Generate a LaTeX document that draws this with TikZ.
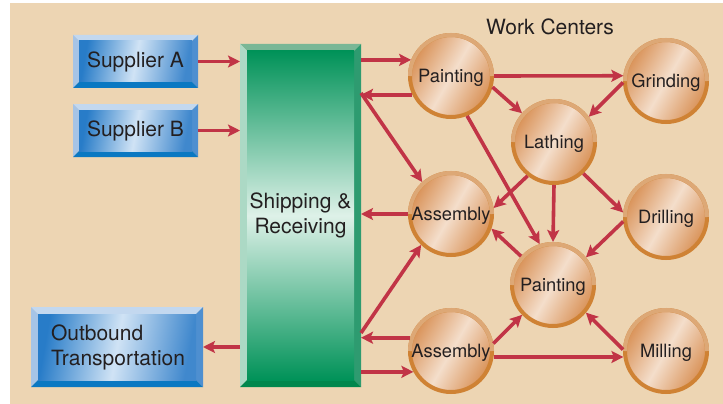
\documentclass[tikz,border=0pt]{standalone}
\usepackage{fontspec}
\setmainfont{TeX Gyre Heros}
\usetikzlibrary{arrows.meta,calc}
\pgfdeclarelayer{back}
\pgfdeclarelayer{bevel}
\pgfsetlayers{back,bevel,main}
\definecolor{beige}{RGB}{237,213,179}
\definecolor{arrowred}{RGB}{193,52,70}
\definecolor{ringD}{RGB}{207,130,52}
\definecolor{ringL}{RGB}{221,168,118}
\definecolor{cEdge}{RGB}{217,146,88}
\definecolor{cMid}{RGB}{244,222,203}
\definecolor{txt}{RGB}{35,31,32}
\definecolor{bTop}{RGB}{195,216,239}
\definecolor{bLeft}{RGB}{166,196,230}
\definecolor{bRight}{RGB}{78,143,208}
\definecolor{bBot}{RGB}{10,120,194}
\definecolor{bDark}{RGB}{40,124,200}
\definecolor{bLight}{RGB}{208,227,245}
\definecolor{bMed}{RGB}{64,136,205}
\definecolor{gTop}{RGB}{122,183,150}
\definecolor{gLeft}{RGB}{172,217,197}
\definecolor{gRight}{RGB}{46,155,112}
\definecolor{gBot}{RGB}{0,135,77}
\definecolor{gDark}{RGB}{0,146,88}
\definecolor{gLight}{RGB}{222,241,232}
\newcommand\bevelbox[7]{%
\begin{pgfonlayer}{bevel}
\fill[#3] (#1.north west) -- (#1.north east) -- ($(#1.north east)+(-#2,#2)$) -- ($(#1.north west)+(#2,#2)$) -- cycle;
\fill[#4] (#1.north west) -- ($(#1.north west)+(#2,#2)$) -- ($(#1.south west)+(#2,-#2)$) -- (#1.south west) -- cycle;
\fill[#5] (#1.north east) -- ($(#1.north east)+(-#2,#2)$) -- ($(#1.south east)+(-#2,-#2)$) -- (#1.south east) -- cycle;
\fill[#6] (#1.south west) -- ($(#1.south west)+(#2,-#2)$) -- ($(#1.south east)+(-#2,-#2)$) -- (#1.south east) -- cycle;
\shade[#7] ($(#1.north west)+(#2,#2)$) rectangle ($(#1.south east)+(-#2,-#2)$);
\end{pgfonlayer}}
\begin{document}
\begin{tikzpicture}[x=1pt,y=-1pt,
  box/.style={rectangle, inner sep=0pt, outer sep=0pt, text=txt, font=\fontsize{21}{25}\selectfont},
  wc/.style={circle, minimum size=82pt, inner sep=0pt, draw=ringD, line width=4pt,
    left color=cEdge, right color=cEdge, middle color=cMid, shading angle=60,
    text=txt, text depth=0pt, font=\fontsize{18.3}{20}\selectfont},
  arr/.style={draw=arrowred, line width=3.6pt, -{Stealth[length=12pt,width=12pt,inset=2.5pt]}},
  bluein/.style={left color=bDark, right color=bMed, middle color=bLight, shading angle=80},
  greenin/.style={top color=gDark, bottom color=gDark, middle color=gLight}
]
\useasboundingbox (0,0) rectangle (723,404);
\begin{pgfonlayer}{back}
\fill[white] (0,0) rectangle (723,404);
\fill[beige] (10,3) rectangle (723,404);
\end{pgfonlayer}

% boxes
\node[box, minimum width=125pt, minimum height=53pt] (sa) at (135.5,61.5) {Supplier A};
\node[box, minimum width=125pt, minimum height=53pt] (sb) at (135.5,130.5) {Supplier B};
\node[box, minimum width=172pt, minimum height=80pt, text width=132pt, inner xsep=20pt, align=left] (ob) at (117,347) {Outbound\\Transportation};
\node[box, minimum width=121pt, minimum height=343pt, align=center] (sr) at (300.5,215.5) {Shipping \&\\Receiving};
\bevelbox{sa}{6}{bTop}{bLeft}{bRight}{bBot}{bluein}
\bevelbox{sb}{6}{bTop}{bLeft}{bRight}{bBot}{bluein}
\bevelbox{ob}{7}{bTop}{bLeft}{bRight}{bBot}{bluein}
\bevelbox{sr}{7}{gTop}{gLeft}{gRight}{gBot}{greenin}

\node[text=txt, font=\fontsize{21}{25}\selectfont] (title) at (550,27) {Work Centers};

% work centers
\node[wc] (p1) at (451,76) {Painting};
\node[wc] (g) at (666,81) {Grinding};
\node[wc] (l) at (554,142) {Lathing};
\node[wc] (a1) at (451,214) {Assembly};
\node[wc] (d) at (666,217) {Drilling};
\node[wc] (p2) at (553,285) {Painting};
\node[wc] (a2) at (451,351) {Assembly};
\node[wc] (m) at (666,351) {Milling};
\foreach \n in {p1,g,l,a1,d,p2,a2,m}{
  \draw[ringL, line width=4pt] (\n.center) ++(41pt,0pt) arc[start angle=0, end angle=180, radius=41pt];
}

% connectors
\draw[arr] (sa.east) -- (sr.west |- sa.east);
\draw[arr] (sb.east) -- (sr.west |- sb.east);
\draw[arr] (sr.west |- ob.east) -- (ob.east);
\draw[arr] (sr.east |- p1.158) -- (p1.158);
\draw[arr] (p1.206) -- (sr.east |- p1.206);
\draw[arr] ($(sr.north east)+(0,49)$) -- (a1.132);
\draw[arr] (a1.west) -- (sr.east |- a1.west);
\draw[arr] ($(sr.north east)+(0,289)$) -- (a1.226);
\draw[arr] (a2.162) -- (sr.east |- a2.162);
\draw[arr] (sr.east |- a2.209) -- (a2.209);
\draw[arr] (p1.east) -- (g.173);
\draw[arr] (p1.345) -- (l.138);
\draw[arr] (g.182) -- (l.36);
\draw[arr] (p1.292) -- (p2.108);
\draw[arr] (l.232) -- (a1.8);
\draw[arr] (l.south) -- (p2.north);
\draw[arr] (l.313) -- (d.174);
\draw[arr] (d.186) -- (p2.40);
\draw[arr] (p2.138) -- (a1.340);
\draw[arr] (a2.10) -- (p2.224);
\draw[arr] (a2.352) -- (m.188);
\draw[arr] (m.178) -- (p2.320);
\end{tikzpicture}
\end{document}
